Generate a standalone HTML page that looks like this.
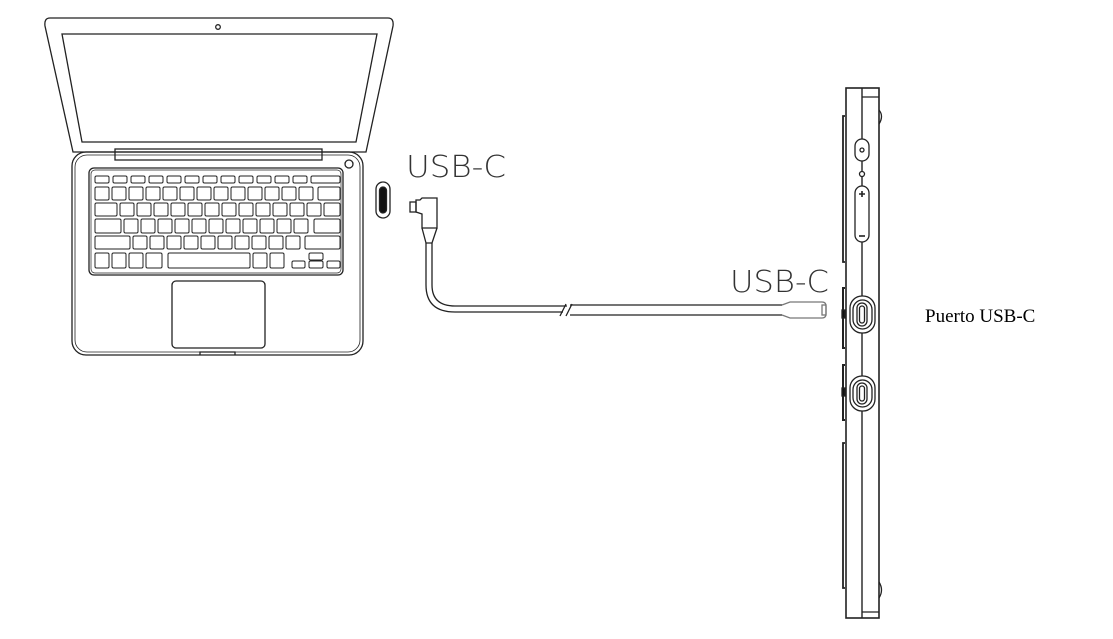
<!DOCTYPE html>
<html><head><meta charset="utf-8"><style>
html,body{margin:0;padding:0;background:#fff}
svg{display:block}
</style></head><body>
<svg width="1113" height="639" viewBox="0 0 1113 639" xmlns="http://www.w3.org/2000/svg">
<g fill="none" stroke="#222" stroke-width="1.3">
<!-- lid -->
<path d="M50 18 H388 Q394 18 393 26 L366 152 H73 L45 26 Q44 18 50 18 Z"/>
<path d="M62 34 H377 L356 142 H82 Z"/>
<circle cx="218" cy="27" r="2.3"/>
<!-- hinge -->
<rect x="115" y="149" width="207" height="11"/>
<!-- base -->
<rect x="72" y="152" width="291" height="203" rx="14"/>
<rect x="75" y="155" width="285" height="197" rx="12" stroke-width="0.8"/>
<circle cx="349" cy="164" r="4"/>
<rect x="89" y="168" width="254" height="107" rx="5"/>
<rect x="91" y="170" width="250" height="103" rx="4" stroke-width="0.7"/>
<rect x="172" y="281" width="93" height="67" rx="4"/>
<path d="M200 355 V352 H235 V355"/>
<!-- keys row1 -->
<g stroke-width="1">
<rect x="95" y="176" width="14" height="7" rx="1.5"/><rect x="113" y="176" width="14" height="7" rx="1.5"/><rect x="131" y="176" width="14" height="7" rx="1.5"/><rect x="149" y="176" width="14" height="7" rx="1.5"/><rect x="167" y="176" width="14" height="7" rx="1.5"/><rect x="185" y="176" width="14" height="7" rx="1.5"/><rect x="203" y="176" width="14" height="7" rx="1.5"/><rect x="221" y="176" width="14" height="7" rx="1.5"/><rect x="239" y="176" width="14" height="7" rx="1.5"/><rect x="257" y="176" width="14" height="7" rx="1.5"/><rect x="275" y="176" width="14" height="7" rx="1.5"/><rect x="293" y="176" width="14" height="7" rx="1.5"/><rect x="311" y="176" width="29" height="7" rx="1.5"/>
<!-- row2 -->
<rect x="95" y="187" width="14" height="13" rx="1.5"/><rect x="112" y="187" width="14" height="13" rx="1.5"/><rect x="129" y="187" width="14" height="13" rx="1.5"/><rect x="146" y="187" width="14" height="13" rx="1.5"/><rect x="163" y="187" width="14" height="13" rx="1.5"/><rect x="180" y="187" width="14" height="13" rx="1.5"/><rect x="197" y="187" width="14" height="13" rx="1.5"/><rect x="214" y="187" width="14" height="13" rx="1.5"/><rect x="231" y="187" width="14" height="13" rx="1.5"/><rect x="248" y="187" width="14" height="13" rx="1.5"/><rect x="265" y="187" width="14" height="13" rx="1.5"/><rect x="282" y="187" width="14" height="13" rx="1.5"/><rect x="299" y="187" width="14" height="13" rx="1.5"/><rect x="318" y="187" width="22" height="13" rx="1.5"/>
<!-- row3 -->
<rect x="95" y="203" width="22" height="13" rx="1.5"/><rect x="120" y="203" width="14" height="13" rx="1.5"/><rect x="137" y="203" width="14" height="13" rx="1.5"/><rect x="154" y="203" width="14" height="13" rx="1.5"/><rect x="171" y="203" width="14" height="13" rx="1.5"/><rect x="188" y="203" width="14" height="13" rx="1.5"/><rect x="205" y="203" width="14" height="13" rx="1.5"/><rect x="222" y="203" width="14" height="13" rx="1.5"/><rect x="239" y="203" width="14" height="13" rx="1.5"/><rect x="256" y="203" width="14" height="13" rx="1.5"/><rect x="273" y="203" width="14" height="13" rx="1.5"/><rect x="290" y="203" width="14" height="13" rx="1.5"/><rect x="307" y="203" width="14" height="13" rx="1.5"/><rect x="324" y="203" width="16" height="13" rx="1.5"/>
<!-- row4 -->
<rect x="95" y="219" width="26" height="14" rx="1.5"/><rect x="124" y="219" width="14" height="14" rx="1.5"/><rect x="141" y="219" width="14" height="14" rx="1.5"/><rect x="158" y="219" width="14" height="14" rx="1.5"/><rect x="175" y="219" width="14" height="14" rx="1.5"/><rect x="192" y="219" width="14" height="14" rx="1.5"/><rect x="209" y="219" width="14" height="14" rx="1.5"/><rect x="226" y="219" width="14" height="14" rx="1.5"/><rect x="243" y="219" width="14" height="14" rx="1.5"/><rect x="260" y="219" width="14" height="14" rx="1.5"/><rect x="277" y="219" width="14" height="14" rx="1.5"/><rect x="294" y="219" width="14" height="14" rx="1.5"/><rect x="314" y="219" width="26" height="14" rx="1.5"/>
<!-- row5 -->
<rect x="95" y="236" width="35" height="13" rx="1.5"/><rect x="133" y="236" width="14" height="13" rx="1.5"/><rect x="150" y="236" width="14" height="13" rx="1.5"/><rect x="167" y="236" width="14" height="13" rx="1.5"/><rect x="184" y="236" width="14" height="13" rx="1.5"/><rect x="201" y="236" width="14" height="13" rx="1.5"/><rect x="218" y="236" width="14" height="13" rx="1.5"/><rect x="235" y="236" width="14" height="13" rx="1.5"/><rect x="252" y="236" width="14" height="13" rx="1.5"/><rect x="269" y="236" width="14" height="13" rx="1.5"/><rect x="286" y="236" width="14" height="13" rx="1.5"/><rect x="305" y="236" width="35" height="13" rx="1.5"/>
<!-- row6 -->
<rect x="95" y="253" width="14" height="15" rx="1.5"/><rect x="112" y="253" width="14" height="15" rx="1.5"/><rect x="129" y="253" width="14" height="15" rx="1.5"/><rect x="146" y="253" width="16" height="15" rx="1.5"/><rect x="168" y="253" width="82" height="15" rx="1.5"/><rect x="253" y="253" width="14" height="15" rx="1.5"/><rect x="270" y="253" width="14" height="15" rx="1.5"/><rect x="292" y="261" width="13" height="7" rx="1.5"/><rect x="309" y="253" width="14" height="7" rx="1.5"/><rect x="309" y="261" width="14" height="7" rx="1.5"/><rect x="327" y="261" width="13" height="7" rx="1.5"/>
</g>
<!-- laptop port -->
<rect x="376" y="182" width="14" height="36" rx="7"/>
<rect x="379.5" y="187" width="7" height="26" rx="3.5" fill="#111"/>
<!-- cable -->
<rect x="410" y="202" width="6" height="10"/>
<path d="M416 200 H420 L422 198 H437 V228 H422 V214 L416 212 Z"/>
<path d="M422 228 L426 243 H432 L437 228"/>
<path d="M426 243 V285 Q426 312 455 312 H563"/>
<path d="M432 243 V285 Q432 306 455 306 H567" />
<path d="M560 316 L566 304 M566 316 L572 304"/>
<path d="M570 305 H782 M570 315 H782"/>
<path d="M782 305 L790 302 H822 Q826 302 826 306 V314 Q826 318 822 318 H790 L782 315" stroke="#777"/>
<rect x="822" y="305" width="4" height="10" stroke="#777"/>
<!-- tablet -->
<rect x="846" y="88" width="33" height="530" stroke-width="1.6"/>
<line x1="862" y1="88" x2="862" y2="618" stroke-width="1.4"/>
<line x1="862" y1="97" x2="879" y2="97"/>
<line x1="862" y1="612" x2="879" y2="612"/>
<path d="M879 110 Q884 116 879 124"/>
<path d="M879 582 Q884 590 879 598"/>
<path d="M845 116 H843 V262 H845" stroke-width="1.8"/>
<path d="M845 443 H843 V588 H845" stroke-width="1.8"/>
<path d="M845 288 H843 V348 H845" stroke-width="2"/>
<path d="M845 365 H843 V420 H845" stroke-width="2"/>
<rect x="855" y="139" width="14" height="22" rx="7" fill="#fff"/>
<circle cx="862" cy="150" r="2"/>
<circle cx="862" cy="174" r="2.5" fill="#fff"/>
<rect x="855" y="186" width="14" height="56" rx="7" fill="#fff"/>
<path d="M859 194 H865 M862 191 V197" stroke-width="1.6"/>
<path d="M859 236 H865" stroke-width="1.6"/>
<rect x="850" y="296" width="25" height="37" rx="12" fill="#fff"/>
<rect x="853" y="300" width="19" height="29" rx="9.5"/>
<rect x="857" y="303" width="10" height="23" rx="5"/>
<rect x="859.5" y="306" width="5" height="17" rx="2.5"/>
<rect x="850" y="376" width="25" height="35" rx="12" fill="#fff"/>
<rect x="853" y="380" width="19" height="27" rx="9.5"/>
<rect x="857" y="383" width="10" height="21" rx="5"/>
<rect x="859.5" y="386" width="5" height="15" rx="2.5"/>
<rect x="842" y="310" width="3" height="8" fill="#111"/>
<rect x="842" y="388" width="3" height="8" fill="#111"/>
</g>
<g font-family="'DejaVu Sans','Liberation Sans',sans-serif" font-weight="200" fill="#333" font-size="30">
<text x="406" y="177" textLength="100" lengthAdjust="spacingAndGlyphs">USB-C</text>
<text x="730" y="292" textLength="99" lengthAdjust="spacingAndGlyphs">USB-C</text>
</g>
<text x="925" y="322" font-family="'Liberation Serif',serif" font-size="19" fill="#000">Puerto USB-C</text>
</svg>
</body></html>
